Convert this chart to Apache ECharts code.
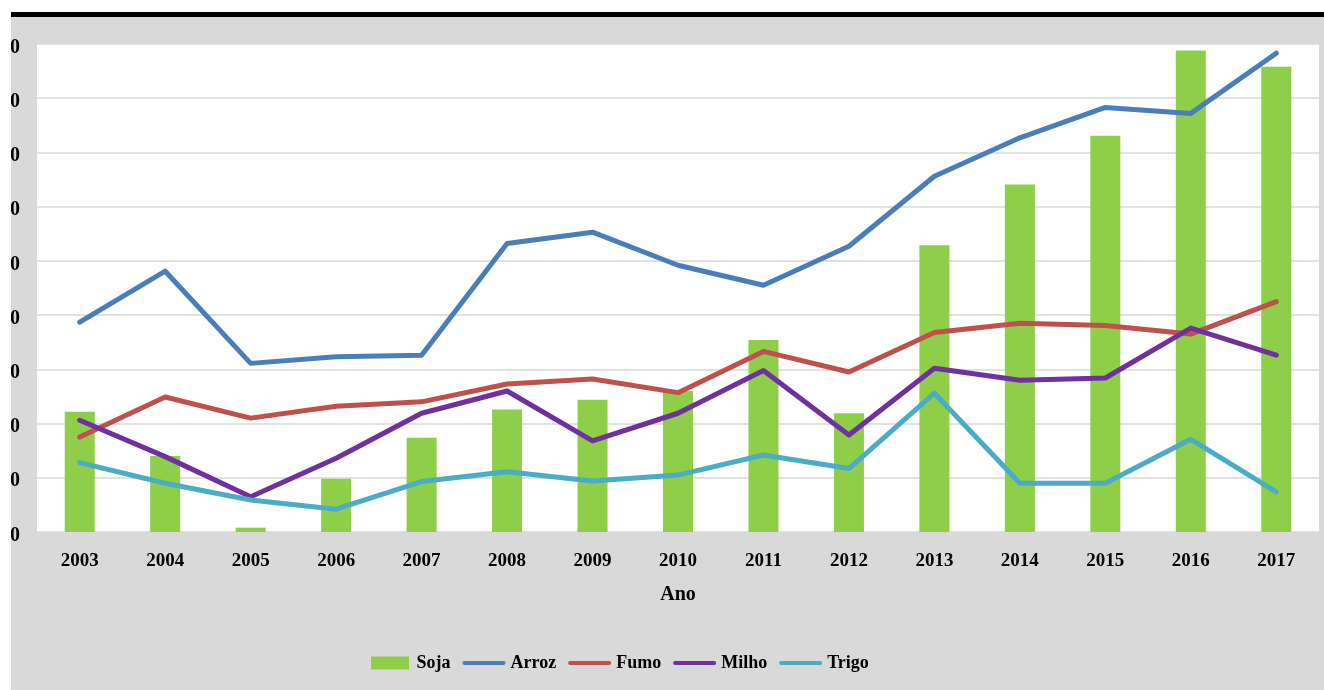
<!DOCTYPE html>
<html>
<head>
<meta charset="utf-8">
<script src="https://cdn.jsdelivr.net/npm/echarts@6/dist/echarts.min.js"></script>
<style>
  html, body { margin: 0; padding: 0; background: #ffffff; width: 1324px; height: 690px; overflow: hidden; }
  #topbar { position: absolute; left: 11px; top: 12px; width: 1313px; height: 5px; background: #000; }
  #frame { position: absolute; left: 11px; top: 17px; width: 1313px; height: 673px; overflow: hidden; background: #d9d9d9; }
  #chart { position: absolute; left: -11px; top: -17px; width: 1324px; height: 690px; }
</style>
</head>
<body>
<div id="topbar"></div>
<div id="frame"><div id="chart"></div></div>
<script>
// Data (arbitrary units where each grid step = 10)
const years = ['2003','2004','2005','2006','2007','2008','2009','2010','2011','2012','2013','2014','2015','2016','2017'];
const soja  = [22.2, 14.0, 0.8, 9.8, 17.4, 22.6, 24.4, 26.0, 35.4, 21.9, 52.9, 64.1, 73.1, 88.8, 85.8];
const arroz = [38.7, 48.1, 31.1, 32.3, 32.6, 53.2, 55.3, 49.2, 45.5, 52.7, 65.6, 72.7, 78.3, 77.2, 88.3];
const fumo  = [17.5, 24.9, 21.0, 23.2, 24.0, 27.3, 28.2, 25.7, 33.3, 29.5, 36.8, 38.5, 38.1, 36.5, 42.5];
const milho = [20.6, 13.9, 6.5, 13.6, 21.9, 26.0, 16.8, 21.9, 29.8, 17.9, 30.2, 28.0, 28.4, 37.6, 32.6];
const trigo = [12.8, 9.0, 5.9, 4.2, 9.3, 11.1, 9.4, 10.5, 14.2, 11.7, 25.6, 9.0, 9.0, 17.1, 7.4];
const yTicks = [0, 10, 20, 30, 40, 50, 60, 70, 80, 90];
const axisName = 'Ano';

const colors = { Soja: '#8fce48', Arroz: '#4a7ebb', Fumo: '#c0504d', Milho: '#7030a0', Trigo: '#4bacc6' };
const serif = 'Liberation Serif';
const lineIcon = 'path://M2,0 L41,0 A2,2 0 0 1 41,4 L2,4 A2,2 0 0 1 2,0 Z';
const barIcon = 'path://M0,0 L38,0 L38,13 L0,13 Z';

const chart = echarts.init(document.getElementById('chart'), null, { renderer: 'canvas' });

function lineSeries(name, data) {
  return {
    name: name, type: 'line', data: data,
    symbol: 'none', smooth: false,
    lineStyle: { color: colors[name], width: 5, cap: 'round', join: 'round' },
    itemStyle: { color: colors[name] },
    z: 3
  };
}

chart.setOption({
  backgroundColor: 'transparent',
  animation: false,
  grid: {
    left: 37, right: 5, top: 44, bottom: 158,
    containLabel: false, outerBoundsMode: 'none',
    show: true, backgroundColor: '#ffffff', borderWidth: 0
  },
  legend: {
    left: 366, top: 649,
    itemWidth: 43, itemHeight: 13, itemGap: 12,
    data: [
      { name: 'Soja', icon: barIcon },
      { name: 'Arroz', icon: lineIcon },
      { name: 'Fumo', icon: lineIcon },
      { name: 'Milho', icon: lineIcon },
      { name: 'Trigo', icon: lineIcon }
    ],
    textStyle: { fontFamily: serif, fontWeight: 'bold', fontSize: 18, color: '#000' }
  },
  xAxis: {
    type: 'category', data: years,
    name: axisName, nameLocation: 'middle', nameGap: 53,
    nameTextStyle: { fontFamily: serif, fontWeight: 'bold', fontSize: 20, color: '#000' },
    axisLine: { show: false }, axisTick: { show: false },
    axisLabel: { fontFamily: serif, fontWeight: 'bold', fontSize: 19, color: '#000', margin: 20, interval: 0 }
  },
  yAxis: {
    type: 'value', min: yTicks[0], max: yTicks[yTicks.length - 1], interval: yTicks[1] - yTicks[0],
    axisLine: { show: false }, axisTick: { show: false },
    splitLine: { show: true, lineStyle: { color: '#d9d9d9', width: 1.5 } },
    axisLabel: { fontFamily: serif, fontWeight: 'bold', fontSize: 20, color: '#000', margin: 17,
                 verticalAlign: 'top', lineHeight: 7 }
  },
  series: [
    { name: 'Soja', type: 'bar', data: soja, barWidth: 30, itemStyle: { color: colors.Soja }, z: 2 },
    lineSeries('Arroz', arroz),
    lineSeries('Fumo', fumo),
    lineSeries('Milho', milho),
    lineSeries('Trigo', trigo)
  ]
});
</script>
</body>
</html>
